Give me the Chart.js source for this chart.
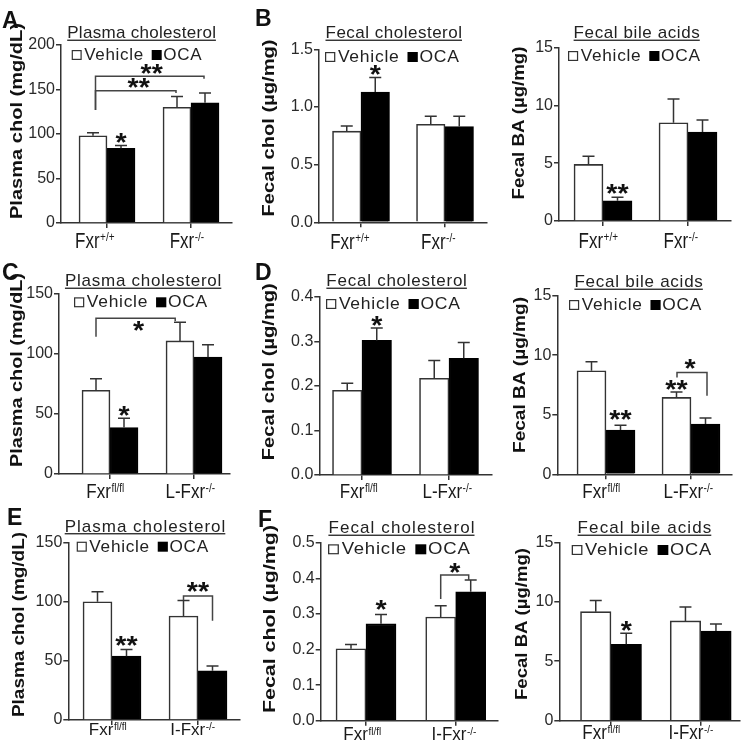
<!DOCTYPE html>
<html><head><meta charset="utf-8">
<script src="https://cdn.jsdelivr.net/npm/chart.js@4.4.1/dist/chart.umd.min.js"></script>
<style>
html,body{margin:0;padding:0;background:#fff;}
#wrap{position:relative;width:754px;height:754px;overflow:hidden;background:#fff;}
#wrap canvas{position:absolute;left:0;top:0;}
</style></head><body><div id="wrap"></div>
<script>
// ---------------- data ----------------
const seriesLabels = ['Vehicle', 'OCA'];

const groupsRow1 = ['Fxr+/+', 'Fxr-/-'];
const groupBaseRow1 = ['Fxr', 'Fxr'];
const groupSupRow1 = ['+/+', '-/-'];
const groupsRow2 = ['Fxrfl/fl', 'L-Fxr-/-'];
const groupBaseRow2 = ['Fxr', 'L-Fxr'];
const groupSupRow2 = ['fl/fl', '-/-'];
const groupsRow3 = ['Fxrfl/fl', 'I-Fxr-/-'];
const groupBaseRow3 = ['Fxr', 'I-Fxr'];
const groupSupRow3 = ['fl/fl', '-/-'];

const ticksPlasma200 = ['0', '50', '100', '150', '200'];
const ticksPlasma150 = ['0', '50', '100', '150'];
const ticksFecalChol15 = ['0.0', '0.5', '1.0', '1.5'];
const ticksFecalChol04 = ['0.0', '0.1', '0.2', '0.3', '0.4'];
const ticksFecalChol05 = ['0.0', '0.1', '0.2', '0.3', '0.4', '0.5'];
const ticksBA15 = ['0', '5', '10', '15'];

// A: plasma cholesterol, whole-body Fxr
const aPlasmaVehicle = [98, 130];
const aPlasmaVehicleSem = [3.5, 12];
const aPlasmaOca = [84, 135];
const aPlasmaOcaSem = [3, 11];
// B: fecal cholesterol, whole-body Fxr
const bFecalCholVehicle = [0.79, 0.85];
const bFecalCholVehicleSem = [0.045, 0.07];
const bFecalCholOca = [1.13, 0.83];
const bFecalCholOcaSem = [0.125, 0.09];
// B: fecal bile acids, whole-body Fxr
const bFecalBaVehicle = [4.9, 8.5];
const bFecalBaVehicleSem = [0.7, 2.05];
const bFecalBaOca = [1.75, 7.7];
const bFecalBaOcaSem = [0.3, 1.05];
// C: plasma cholesterol, liver Fxr
const cPlasmaVehicle = [69.5, 110.5];
const cPlasmaVehicleSem = [9.6, 15.5];
const cPlasmaOca = [38.5, 97];
const cPlasmaOcaSem = [7.7, 10.3];
// D: fecal cholesterol, liver Fxr
const dFecalCholVehicle = [0.19, 0.217];
const dFecalCholVehicleSem = [0.016, 0.04];
const dFecalCholOca = [0.302, 0.262];
const dFecalCholOcaSem = [0.028, 0.035];
// D: fecal bile acids, liver Fxr
const dFecalBaVehicle = [8.7, 6.46];
const dFecalBaVehicleSem = [0.75, 0.45];
const dFecalBaOca = [3.72, 4.22];
const dFecalBaOcaSem = [0.4, 0.5];
// E: plasma cholesterol, intestine Fxr
const ePlasmaVehicle = [100, 88];
const ePlasmaVehicleSem = [8.5, 13];
const ePlasmaOca = [54, 41.7];
const ePlasmaOcaSem = [5.7, 4];
// F: fecal cholesterol, intestine Fxr
const fFecalCholVehicle = [0.202, 0.291];
const fFecalCholVehicleSem = [0.012, 0.032];
const fFecalCholOca = [0.272, 0.362];
const fFecalCholOcaSem = [0.026, 0.033];
// F: fecal bile acids, intestine Fxr
const fFecalBaVehicle = [9.17, 8.39];
const fFecalBaVehicleSem = [0.93, 1.17];
const fFecalBaOca = [6.42, 7.54];
const fFecalBaOcaSem = [0.93, 0.59];

// ---------------- layout / annotations ----------------
const FAM = '"Liberation Sans", Arial, Helvetica, sans-serif';
const YW = 40, XH = 6, CAP = 6;

const panels = [
  {letter:'A', lx:2, lby:28, title:'Plasma cholesterol', yTitle:'Plasma chol (mg/dL)',
   groups:groupsRow1, base:groupBaseRow1, sup:groupSupRow1, ticks:ticksPlasma200,
   veh:aPlasmaVehicle, vehErr:aPlasmaVehicleSem, oca:aPlasmaOca, ocaErr:aPlasmaOcaSem,
   L:61, R:232, T:45, B:223, c0:107, c1:191, bt:28,
   tx:141.7, tb:38, tls:0.3, legX:71.7, legY:55, legW:131.6,
   ytx:17.5, yty:121, ytLen:196, xlb:247.5, xsy:1.35, xsh:[-12.5,-4.3],
   stars:[{g:0,d:1,v:96,t:'*'}],
   brackets:[{a:[0,0],b:[1,0],y:148.7,ya:127,yb:146,dxa:2.5,dxb:-1,t:'**',dy:-7.5,dx:3},
             {a:[0,0],b:[1,1],y:165,ya:127,yb:162,dxa:2.5,dxb:-1,t:'**',dy:-7.5,dx:2}]},
  {letter:'B', lx:255, lby:26, title:'Fecal cholesterol', yTitle:'Fecal chol (\u00b5g/mg)',
   groups:groupsRow1, base:groupBaseRow1, sup:groupSupRow1, ticks:ticksFecalChol15,
   veh:bFecalCholVehicle, vehErr:bFecalCholVehicleSem, oca:bFecalCholOca, ocaErr:bFecalCholOcaSem,
   L:319, R:487, T:49.3, B:222.3, c0:361, c1:445, bt:28.5,
   tx:394, tb:38, tls:0.5, legX:325, legY:57, legW:135.7,
   ytx:269.5, yty:128, ytLen:177, xlb:248.5, xsy:1.35, xsh:[-11.3,-7],
   stars:[{g:0,d:1,v:1.32,t:'*'}], brackets:[]},
  {letter:'', title:'Fecal bile acids', yTitle:'Fecal BA (\u00b5g/mg)',
   groups:groupsRow1, base:groupBaseRow1, sup:groupSupRow1, ticks:ticksBA15,
   veh:bFecalBaVehicle, vehErr:bFecalBaVehicleSem, oca:bFecalBaOca, ocaErr:bFecalBaOcaSem,
   L:559, R:731, T:47.7, B:221, c0:603, c1:688, bt:29,
   tx:637, tb:38, tls:0.6, legX:568, legY:56, legW:133.7,
   ytx:519.5, yty:123, ytLen:153, xlb:247.5, xsy:1.35, xsh:[-5,-7.5],
   stars:[{g:0,d:1,v:2.74,t:'**'}], brackets:[]},
  {letter:'C', lx:2, lby:280, title:'Plasma cholesterol', yTitle:'Plasma chol (mg/dL)',
   groups:groupsRow2, base:groupBaseRow2, sup:groupSupRow2, ticks:ticksPlasma150,
   veh:cPlasmaVehicle, vehErr:cPlasmaVehicleSem, oca:cPlasmaOca, ocaErr:cPlasmaOcaSem,
   L:59, R:230, T:293.3, B:474, c0:110, c1:194, bt:28,
   tx:143.5, tb:286, tls:0.75, legX:74, legY:302.3, legW:135,
   ytx:17.5, yty:370, ytLen:194, xlb:498, xsy:1.2, xsh:[-5,-4],
   stars:[{g:0,d:1,v:52.3,t:'*'}],
   brackets:[{a:[0,0],b:[1,0],y:129.3,ya:114,yb:127,dxa:0,dxb:-4.8,t:'*',dy:8,dx:3}]},
  {letter:'D', lx:255, lby:280, title:'Fecal cholesterol', yTitle:'Fecal chol (\u00b5g/mg)',
   groups:groupsRow2, base:groupBaseRow2, sup:groupSupRow2, ticks:ticksFecalChol04,
   veh:dFecalCholVehicle, vehErr:dFecalCholVehicleSem, oca:dFecalCholOca, ocaErr:dFecalCholOcaSem,
   L:319.3, R:491.7, T:296.7, B:475, c0:362, c1:449, bt:29.5,
   tx:397, tb:286, tls:0.75, legX:326, legY:304, legW:135.7,
   ytx:270, yty:371.7, ytLen:177, xlb:498, xsy:1.2, xsh:[-3.5,-2],
   stars:[{g:0,d:1,v:0.3466,t:'*'}], brackets:[]},
  {letter:'', title:'Fecal bile acids', yTitle:'Fecal BA (\u00b5g/mg)',
   groups:groupsRow2, base:groupBaseRow2, sup:groupSupRow2, ticks:ticksBA15,
   veh:dFecalBaVehicle, vehErr:dFecalBaVehicleSem, oca:dFecalBaOca, ocaErr:dFecalBaOcaSem,
   L:557.3, R:731.7, T:295.7, B:474.3, c0:606, c1:691, bt:29,
   tx:639, tb:287, tls:0.75, legX:569, legY:305, legW:134,
   ytx:520.5, yty:375, ytLen:156, xlb:498, xsy:1.2, xsh:[-5,-3],
   stars:[{g:0,d:1,v:4.94,t:'**'},{g:1,d:0,v:7.5,t:'**'}],
   brackets:[{a:[1,0],b:[1,1],y:8.56,ya:8.14,yb:6.6,dxa:0.5,dxb:1.5,t:'*',dy:-8.3,dx:-2}]},
  {letter:'E', lx:7, lby:525, title:'Plasma cholesterol', yTitle:'Plasma chol (mg/dL)',
   groups:groupsRow3, base:groupBaseRow3, sup:groupSupRow3, ticks:ticksPlasma150,
   veh:ePlasmaVehicle, vehErr:ePlasmaVehicleSem, oca:ePlasmaOca, ocaErr:ePlasmaOcaSem,
   L:68.3, R:240, T:542.7, B:720, c0:112, c1:198, bt:29,
   tx:145.5, tb:531.5, tls:1.0, legX:76.7, legY:546.7, legW:133.3,
   ytx:20, yty:624.5, ytLen:185, xlb:735, xsy:1.0, xsh:[-4.5,-5.5],
   stars:[{g:0,d:1,v:66.8,t:'**'}],
   brackets:[{a:[1,0],b:[1,1],y:104.9,ya:101.5,yb:84,dxa:0,dxb:0,t:'**',dy:-9,dx:0}]},
  {letter:'F', lx:258, lby:527, title:'Fecal cholesterol', yTitle:'Fecal chol (\u00b5g/mg)',
   groups:groupsRow3, base:groupBaseRow3, sup:groupSupRow3, ticks:ticksFecalChol05,
   veh:fFecalCholVehicle, vehErr:fFecalCholVehicleSem, oca:fFecalCholOca, ocaErr:fFecalCholOcaSem,
   L:320.7, R:498, T:542.7, B:720.7, c0:366, c1:455.7, bt:30,
   tx:402, tb:533, tls:1.1, legX:328, legY:549.3, legW:143.7,
   ytx:270.5, yty:619, ytLen:188, xlb:740, xsy:1.1, xsh:[-4,-2],
   stars:[{g:0,d:1,v:0.324,t:'*'}],
   brackets:[{a:[1,0],b:[1,1],y:0.409,ya:0.342,yb:0.395,dxa:0,dxb:-2,t:'*',dy:-7,dx:0}]},
  {letter:'', title:'Fecal bile acids', yTitle:'Fecal BA (\u00b5g/mg)',
   groups:groupsRow3, base:groupBaseRow3, sup:groupSupRow3, ticks:ticksBA15,
   veh:fFecalBaVehicle, vehErr:fFecalBaVehicleSem, oca:fFecalBaOca, ocaErr:fFecalBaOcaSem,
   L:559.3, R:740, T:542.3, B:720.7, c0:611, c1:700.7, bt:30.5,
   tx:645, tb:533, tls:1.1, legX:571.7, legY:550, legW:141.3,
   ytx:522.5, yty:624, ytLen:152, xlb:739, xsy:1.15, xsh:[-10,-10],
   stars:[{g:0,d:1,v:7.96,t:'*'}], brackets:[]}
];

// ---------------- drawing helpers ----------------
function drawStar(ctx, t, x, cy) {
  ctx.save();
  ctx.font = 'bold 26px ' + FAM;
  const m = ctx.measureText(t);
  const base = cy + (m.actualBoundingBoxAscent - m.actualBoundingBoxDescent) / 2;
  ctx.translate(x, base);
  ctx.scale(1.1, 1);
  ctx.textAlign = 'center';
  ctx.textBaseline = 'alphabetic';
  ctx.fillStyle = '#111';
  ctx.fillText(t, 0, 0);
  ctx.restore();
}

function panelPlugin(p) {
  return {
    id: 'panelDecor',
    afterDatasetsDraw(chart) {
      const ctx = chart.ctx, ys = chart.scales.y;
      ctx.save();
      ctx.strokeStyle = '#333';
      ctx.lineWidth = 1.5;
      chart.data.datasets.forEach((ds, d) => {
        const meta = chart.getDatasetMeta(d);
        meta.data.forEach((el, g) => {
          const top = ys.getPixelForValue(ds.data[g].y + ds.err[g]);
          ctx.beginPath();
          ctx.moveTo(el.x, el.y);
          ctx.lineTo(el.x, top);
          ctx.moveTo(el.x - CAP, top);
          ctx.lineTo(el.x + CAP, top);
          ctx.stroke();
        });
      });
      ctx.restore();
    },
    afterDraw(chart) {
      const ctx = chart.ctx, ys = chart.scales.y, xs = chart.scales.x;
      const barX = (g, d) => chart.getDatasetMeta(d).data[g].x;

      // brackets
      ctx.save();
      ctx.strokeStyle = '#444';
      ctx.lineWidth = 1.5;
      p.brackets.forEach(b => {
        const xa = barX(b.a[0], b.a[1]) + (b.dxa || 0);
        const xb = barX(b.b[0], b.b[1]) + (b.dxb || 0);
        const py = ys.getPixelForValue(b.y);
        ctx.beginPath();
        ctx.moveTo(xa, ys.getPixelForValue(b.ya));
        ctx.lineTo(xa, py);
        ctx.lineTo(xb, py);
        ctx.lineTo(xb, ys.getPixelForValue(b.yb));
        ctx.stroke();
        drawStar(ctx, b.t, (xa + xb) / 2 + (b.dx || 0), py + b.dy);
      });
      ctx.restore();

      // stars above bars
      p.stars.forEach(s => drawStar(ctx, s.t, barX(s.g, s.d), ys.getPixelForValue(s.v)));

      // x category labels with superscripts
      ctx.save();
      ctx.fillStyle = '#1a1a1a';
      ctx.textBaseline = 'alphabetic';
      ctx.textAlign = 'left';
      p.base.forEach((bs, g) => {
        ctx.font = '17px ' + FAM;
        const wb = ctx.measureText(bs).width;
        ctx.font = '10px ' + FAM;
        const wsu = ctx.measureText(p.sup[g]).width;
        const cx = xs.getPixelForValue(g) + p.xsh[g];
        const x0 = cx - (wb + wsu) / 2;
        ctx.save();
        ctx.translate(x0, p.xlb);
        ctx.scale(1, p.xsy);
        ctx.font = '17px ' + FAM;
        ctx.fillText(bs, 0, 0);
        ctx.font = '10px ' + FAM;
        ctx.fillText(p.sup[g], wb + 0.5, -5);
        ctx.restore();
      });
      ctx.restore();

      // y axis title (stretched bold)
      ctx.save();
      ctx.font = 'bold 16px ' + FAM;
      const w = ctx.measureText(p.yTitle).width;
      ctx.translate(p.ytx, p.yty);
      ctx.rotate(-Math.PI / 2);
      ctx.scale(p.ytLen / w, 1);
      ctx.textAlign = 'center';
      ctx.textBaseline = 'middle';
      ctx.fillStyle = '#111';
      ctx.fillText(p.yTitle, 0, 0);
      ctx.restore();

      // underlined panel title
      ctx.save();
      ctx.font = '17px ' + FAM;
      ctx.letterSpacing = p.tls + 'px';
      ctx.fillStyle = '#222';
      ctx.textAlign = 'left';
      ctx.textBaseline = 'alphabetic';
      const tw = ctx.measureText(p.title).width;
      const tx0 = p.tx - tw / 2;
      ctx.fillText(p.title, tx0, p.tb);
      ctx.fillRect(tx0, p.tb + 1.6, tw - p.tls, 1.3);
      ctx.restore();

      // legend
      ctx.save();
      ctx.translate(p.legX, p.legY);
      ctx.scale(p.legW / 131.6, 1);
      ctx.fillStyle = '#fff';
      ctx.fillRect(0, -5, 10, 10);
      ctx.strokeStyle = '#333';
      ctx.lineWidth = 1.2;
      ctx.strokeRect(0.6, -4.4, 8.8, 8.8);
      ctx.fillStyle = '#000';
      ctx.fillRect(80, -5, 10, 10);
      ctx.font = '17px ' + FAM;
      ctx.letterSpacing = '0.7px';
      ctx.textBaseline = 'middle';
      ctx.textAlign = 'left';
      ctx.fillStyle = '#222';
      ctx.fillText(seriesLabels[0], 12.5, 0.5);
      ctx.fillText(seriesLabels[1], 91.6, 0.5);
      ctx.restore();

      // panel letter
      if (p.letter) {
        ctx.save();
        ctx.font = 'bold 23px ' + FAM;
        ctx.fillStyle = '#111';
        ctx.textAlign = 'left';
        ctx.textBaseline = 'alphabetic';
        ctx.fillText(p.letter, p.lx, p.lby);
        ctx.restore();
      }
    }
  };
}

// ---------------- build charts ----------------
const wrap = document.getElementById('wrap');
panels.forEach(p => {
  const cv = document.createElement('canvas');
  cv.width = 754; cv.height = 754;
  cv.style.width = '754px'; cv.style.height = '754px';
  wrap.appendChild(cv);
  const ppu = p.c1 - p.c0;
  const xmin = (p.L - p.c0) / ppu, xmax = (p.R - p.c0) / ppu;
  const tickVals = p.ticks.map(Number);
  new Chart(cv.getContext('2d'), {
    type: 'bar',
    data: {
      labels: p.groups,
      datasets: [
        {label: seriesLabels[0], data: p.veh.map((v, i) => ({x: i, y: v})), err: p.vehErr,
         backgroundColor: '#ffffff', borderColor: '#333', borderWidth: 1.6, barThickness: p.bt},
        {label: seriesLabels[1], data: p.oca.map((v, i) => ({x: i, y: v})), err: p.ocaErr,
         backgroundColor: '#000000', borderColor: '#000', borderWidth: 1.6, barThickness: p.bt}
      ]
    },
    options: {
      responsive: false, animation: false, devicePixelRatio: 1, events: [],
      layout: {padding: {left: p.L - YW, right: 754 - p.R, top: p.T, bottom: 754 - p.B - XH}},
      plugins: {legend: {display: false}, title: {display: false}, tooltip: {enabled: false}},
      scales: {
        x: {
          type: 'linear', min: xmin, max: xmax, offset: false, bounds: 'data',
          afterBuildTicks: s => { s.ticks = p.groups.map((_, i) => ({value: i})); },
          afterFit: s => { s.height = XH; },
          ticks: {display: false},
          grid: {display: true, offset: false, drawOnChartArea: false, drawTicks: true, tickLength: 5, color: '#333', lineWidth: 1.5},
          border: {display: true, color: '#333', width: 1.5}
        },
        y: {
          type: 'linear', min: 0, max: tickVals[tickVals.length - 1], bounds: 'data',
          afterBuildTicks: s => { s.ticks = tickVals.map(v => ({value: v})); },
          afterFit: s => { s.width = YW; },
          ticks: {callback: (v, i) => p.ticks[i], font: {family: FAM, size: 16}, color: '#2a2a2a', padding: 1},
          grid: {display: true, drawOnChartArea: false, drawTicks: true, tickLength: 5, color: '#333', lineWidth: 1.5},
          border: {display: true, color: '#333', width: 1.5}
        }
      }
    },
    plugins: [panelPlugin(p)]
  });
});
</script>
</body></html>
